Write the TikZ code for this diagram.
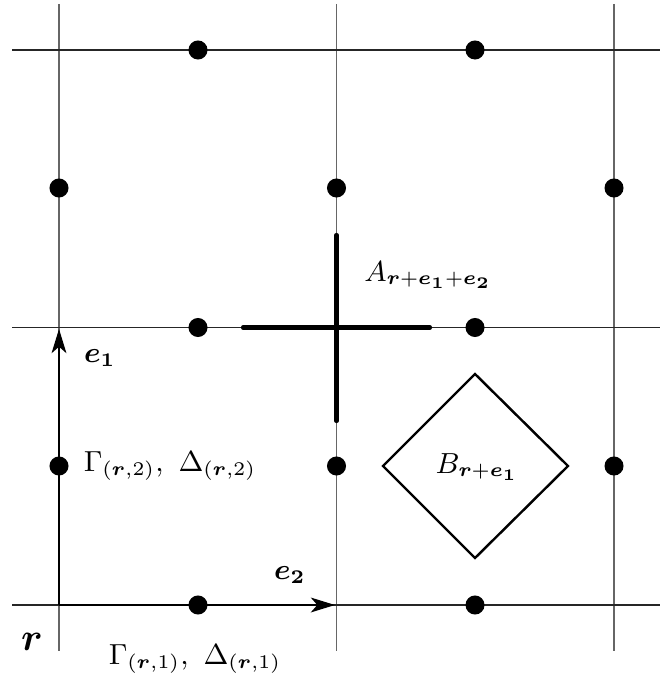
\documentclass[tikz,border=0pt]{standalone}
\usepackage{amsmath,bm}
\usetikzlibrary{arrows.meta}
\begin{document}
\begin{tikzpicture}[x=0.31pt,y=-0.31pt,
  vline/.style={draw=black!60,line width=0.35pt},
  hline/.style={draw=black!85,line width=0.35pt},
  site/.style={circle,fill=black,inner sep=0pt,minimum size=5.9pt},
  vec/.style={draw=black,line width=0.5pt,-{Stealth[length=7.5pt,width=4.6pt,inset=2pt]}},
  plaq/.style={draw=black,line width=1.3pt,line cap=round},
  star/.style={draw=black,line width=0.75pt},
  lab/.style={inner sep=0pt,font=\fontsize{9}{11}\selectfont},
  biglab/.style={inner sep=0pt,font=\fontsize{12}{14}\selectfont}]
\useasboundingbox (0,0) rectangle (668,677);
% grid lines
\foreach \x in {59,336.5,614} \draw[vline] (\x,4) -- (\x,651);
\foreach \y in {50,327.5,605} \draw[hline] (12,\y) -- (660,\y);
% sites
\node[site] (s1) at (198,50) {};
\node[site] (s2) at (475,50) {};
\node[site] (s3) at (59,188) {};
\node[site] (s4) at (336.5,188) {};
\node[site] (s5) at (614,188) {};
\node[site] (s6) at (198,327.5) {};
\node[site] (s7) at (475,327.5) {};
\node[site] (s8) at (59,466) {};
\node[site] (s9) at (336.5,466) {};
\node[site] (s10) at (614,466) {};
\node[site] (s11) at (198,605) {};
\node[site] (s12) at (475,605) {};
% basis vectors
\coordinate (o) at (59,605);
\coordinate (t1) at (59,329);
\coordinate (t2) at (335,605);
\draw[vec] (o) -- (t1);
\draw[vec] (o) -- (t2);
% cross (A operator)
\coordinate (cl) at (243,327.5);
\coordinate (cr) at (430,327.5);
\coordinate (ct) at (336.5,235);
\coordinate (cb) at (336.5,421);
\draw[plaq] (cl) -- (cr);
\draw[plaq] (ct) -- (cb);
% diamond (B operator)
\coordinate (dt) at (475,374);
\coordinate (dr) at (568,466);
\coordinate (db) at (475,558);
\coordinate (dl) at (383,466);
\draw[star] (dt) -- (dr) -- (db) -- (dl) -- cycle;
% labels
\node[lab] (le1) at (100,358) {$\boldsymbol{e_1}$};
\node[lab] (le2) at (290,575) {$\boldsymbol{e_2}$};
\node[biglab] (lr) at (32,642) {$\boldsymbol{r}$};
\node[lab] (lg2) at (170,466) {$\Gamma_{(\boldsymbol{r},2)},\ \Delta_{(\boldsymbol{r},2)}$};
\node[lab] (lg1) at (195,659) {$\Gamma_{(\boldsymbol{r},1)},\ \Delta_{(\boldsymbol{r},1)}$};
\node[lab] (lA) at (428,275) {$A_{\boldsymbol{r}+\boldsymbol{e_1}+\boldsymbol{e_2}}$};
\node[lab] (lB) at (477,467) {$B_{\boldsymbol{r}+\boldsymbol{e_1}}$};
\end{tikzpicture}
\end{document}
